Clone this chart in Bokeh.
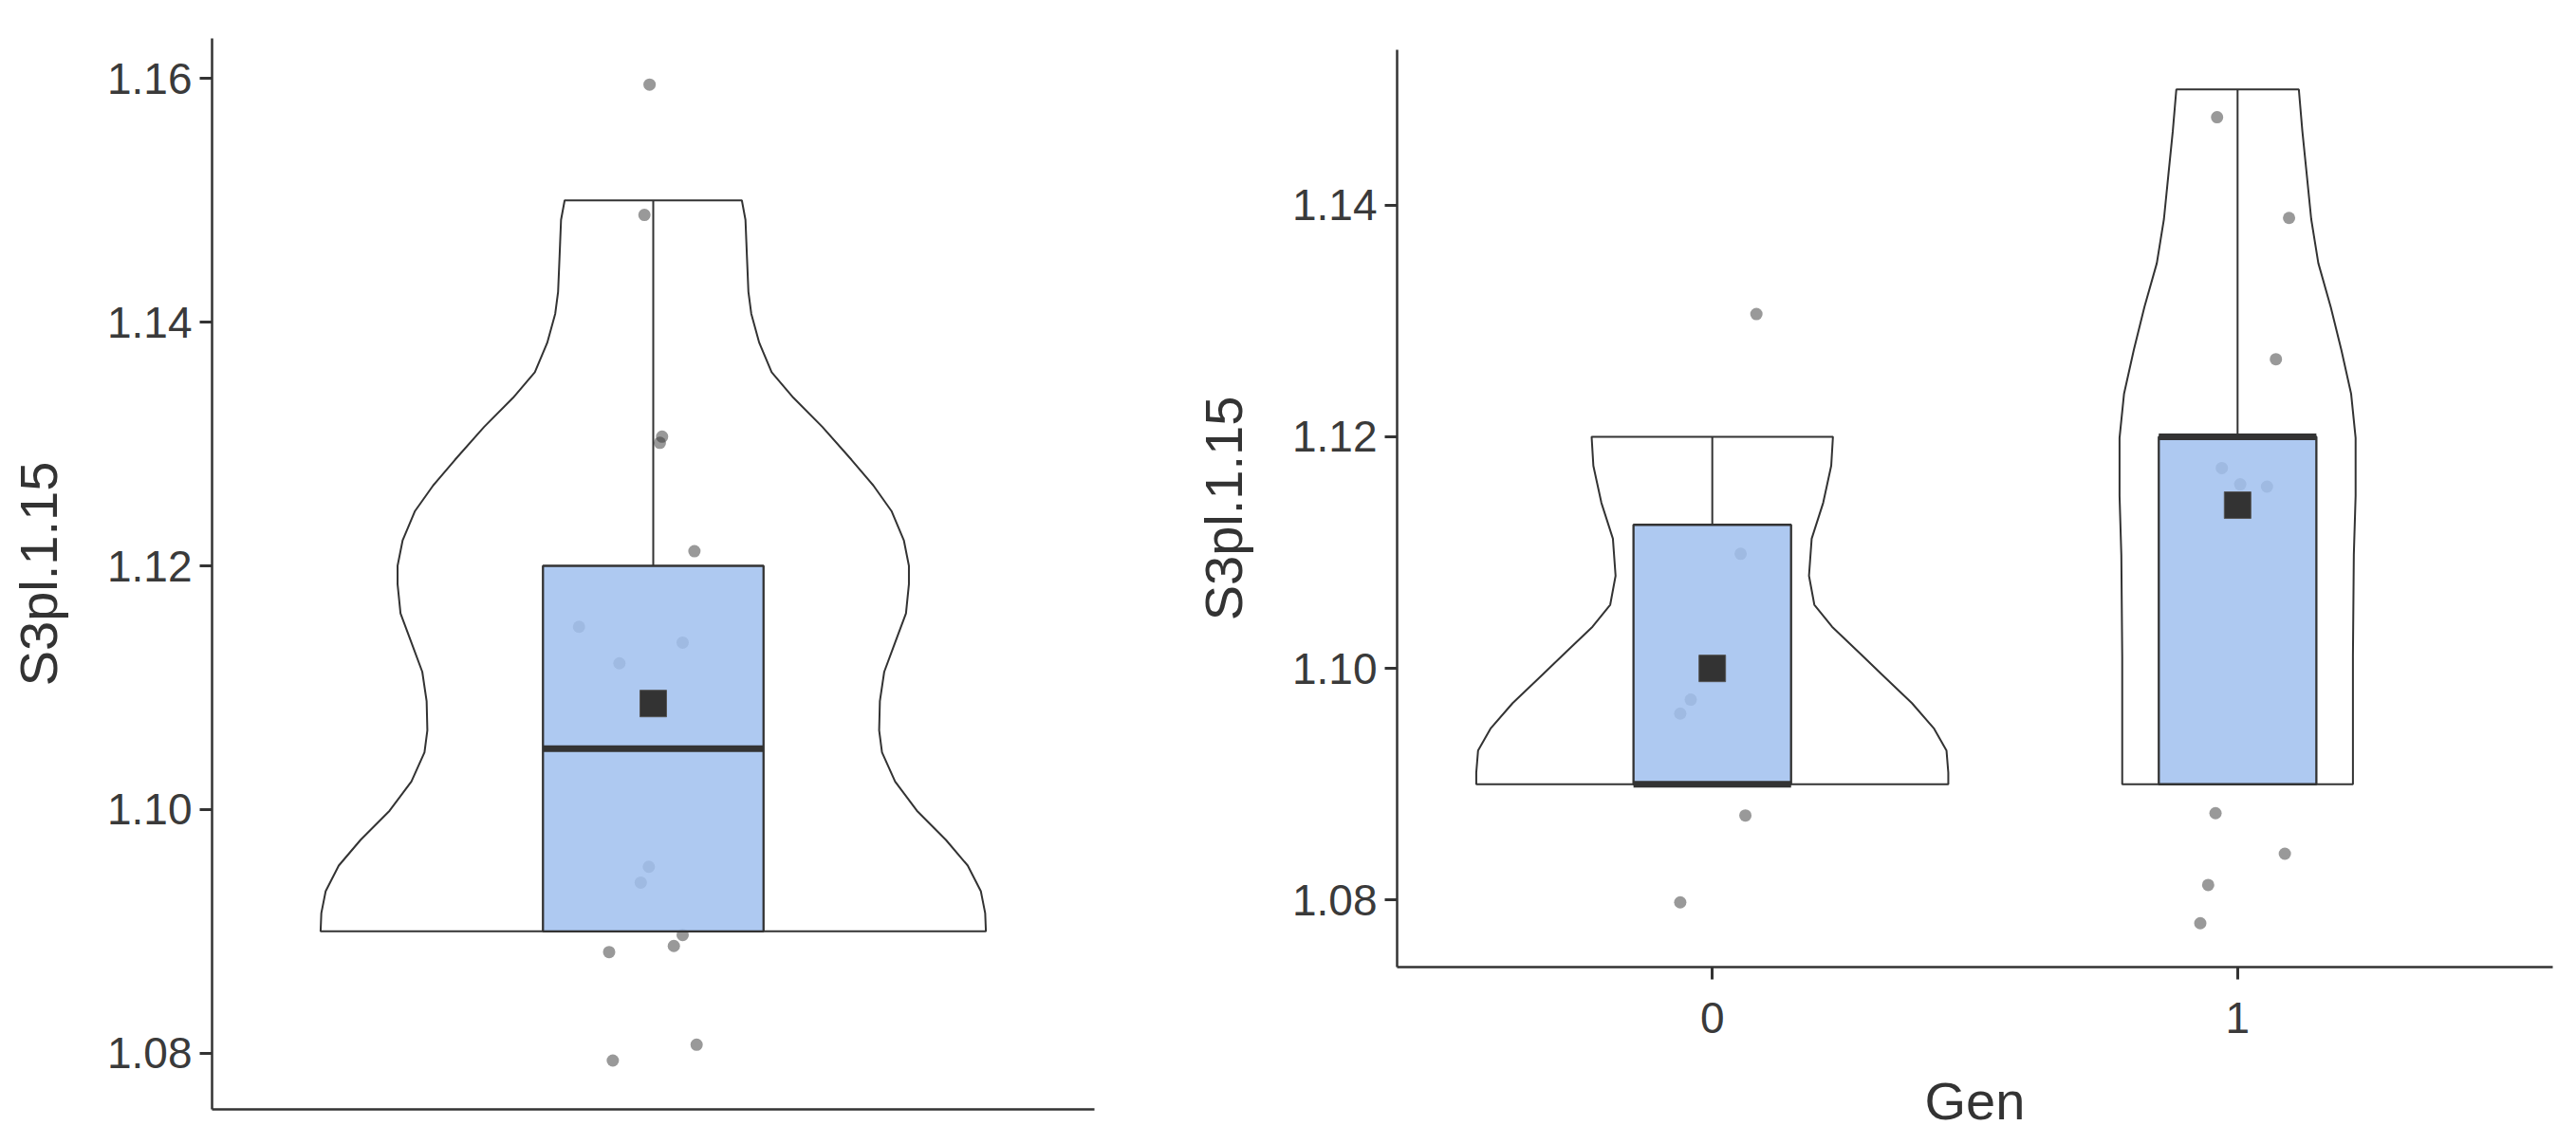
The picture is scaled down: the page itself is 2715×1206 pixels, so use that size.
from bokeh.plotting import figure
from bokeh.layouts import row, column
from bokeh.models import FixedTicker, Range1d, PrintfTickFormatter, Spacer
from bokeh.embed import file_html
from bokeh.resources import INLINE

# ---------------- data ----------------
y_title = "S3pl.1.15"
x_title = "Gen"
gen_labels = ["0", "1"]
gen_pos = [1, 2]

# left panel: all observations
all_pts_y = [1.1595, 1.1488, 1.1306, 1.1301, 1.1212, 1.1150, 1.1137, 1.1120,
             1.0953, 1.0940, 1.0897, 1.0888, 1.0883, 1.0807, 1.0794]
all_pts_jit = [-0.005, -0.012, 0.012, 0.009, 0.056, -0.101, 0.040, -0.046,
               -0.006, -0.017, 0.040, 0.028, -0.060, 0.059, -0.055]
all_q1, all_med, all_q3, all_hi, all_lo, all_mean = 1.09, 1.105, 1.12, 1.15, 1.09, 1.1087
all_vio_y = [1.0900, 1.0915, 1.0933, 1.0954, 1.0975, 1.0999, 1.1023, 1.1047, 1.1065,
             1.1089, 1.1113, 1.1137, 1.1161, 1.1185, 1.1200, 1.1221, 1.1245, 1.1266,
             1.1287, 1.1314, 1.1338, 1.1359, 1.1383, 1.1407, 1.1425, 1.1454, 1.1484, 1.1500]
all_vio_w = [0.4524, 0.4514, 0.4455, 0.4277, 0.3981, 0.3586, 0.3289, 0.3111, 0.3072,
             0.3082, 0.3141, 0.3289, 0.3437, 0.3477, 0.3477, 0.3408, 0.3240, 0.2993,
             0.2697, 0.2301, 0.1906, 0.1610, 0.1442, 0.1333, 0.1294, 0.1274, 0.1254, 0.1205]

# right panel: by Gen
gen0_pts_y = [1.1306, 1.1099, 1.0973, 1.0961, 1.0873, 1.0798]
gen0_pts_jit = [0.084, 0.054, -0.041, -0.061, 0.063, -0.061]
gen1_pts_y = [1.1476, 1.1389, 1.1267, 1.1173, 1.1159, 1.1157, 1.0875, 1.0840, 1.0813, 1.0780]
gen1_pts_jit = [-0.039, 0.098, 0.073, -0.030, 0.005, 0.056, -0.042, 0.090, -0.056, -0.071]

gen_q1 = [1.09, 1.09]
gen_med = [1.09, 1.12]
gen_q3 = [1.1124, 1.12]
gen_hi = [1.12, 1.15]
gen_lo = [1.09, 1.09]
gen_mean = [1.1000, 1.1141]

gen0_vio_y = [1.0900, 1.0910, 1.0929, 1.0948, 1.0970, 1.0992, 1.1014, 1.1036, 1.1055,
              1.1080, 1.1112, 1.1143, 1.1175, 1.1200]
gen0_vio_w = [0.4493, 0.4493, 0.4459, 0.4223, 0.3801, 0.3294, 0.2787, 0.2280, 0.1943,
              0.1841, 0.1892, 0.2111, 0.2264, 0.2297]
gen1_vio_y = [1.0900, 1.0947, 1.1010, 1.1098, 1.1149, 1.1199, 1.1237, 1.1275, 1.1312,
              1.1350, 1.1388, 1.1426, 1.1464, 1.1500]
gen1_vio_w = [0.2196, 0.2196, 0.2196, 0.2213, 0.2247, 0.2247, 0.2162, 0.1976, 0.1774,
              0.1537, 0.1402, 0.1318, 0.1233, 0.1166]

left_yticks = [1.08, 1.10, 1.12, 1.14, 1.16]
right_yticks = [1.08, 1.10, 1.12, 1.14]

# ---------------- style ----------------
FONT = "Liberation Sans"
DARK = "#333333"
BOX_FILL = "#a0bfee"
BOX_W = 0.3


def style(p):
    p.xgrid.visible = False
    p.ygrid.visible = False
    p.outline_line_color = None
    p.background_fill_color = "white"
    p.border_fill_color = "white"
    for ax in p.axis:
        ax.axis_line_color = DARK
        ax.axis_line_width = 2.5
        ax.major_tick_line_color = DARK
        ax.major_tick_line_width = 3
        ax.major_tick_out = 13
        ax.major_tick_in = 0
        ax.minor_tick_line_color = None
        ax.major_label_text_font = FONT
        ax.major_label_text_font_size = "46px"
        ax.major_label_text_color = "#3a3a3a"
        ax.axis_label_text_font = FONT
        ax.axis_label_text_font_size = "56px"
        ax.axis_label_text_font_style = "normal"
        ax.axis_label_text_color = DARK
    p.yaxis.major_label_standoff = 8
    p.xaxis.major_label_standoff = 24


def draw_group(p, pos, vio_y, vio_w, pts_y, pts_jit, q1, med, q3, lo, hi, mean):
    xs = [pos + w for w in vio_w] + [pos - w for w in reversed(vio_w)]
    ys = list(vio_y) + list(reversed(vio_y))
    p.patch(xs, ys, fill_color="white", fill_alpha=0.0, line_color=DARK, line_width=2)
    p.segment(x0=[pos, pos], y0=[q3, lo], x1=[pos, pos], y1=[hi, q1],
              line_color=DARK, line_width=2)
    p.scatter([pos + j for j in pts_jit], pts_y, marker="circle", size=13,
              fill_color=DARK, fill_alpha=0.5, line_alpha=0)
    p.quad(left=[pos - BOX_W / 2], right=[pos + BOX_W / 2], bottom=[q1], top=[q3],
           fill_color=BOX_FILL, fill_alpha=0.85, line_color=DARK, line_width=2.3)
    p.segment(x0=[pos - BOX_W / 2], y0=[med], x1=[pos + BOX_W / 2], y1=[med],
              line_color=DARK, line_width=7)
    p.scatter([pos], [mean], marker="square", size=28, fill_color=DARK,
              line_color="#555555", line_width=1)


# ---------------- left figure ----------------
p1 = figure(frame_width=930, frame_height=1129, min_border_left=223, min_border_right=97,
            min_border_top=40, min_border_bottom=31, toolbar_location=None,
            output_backend="svg", x_range=Range1d(0.4, 1.6),
            y_range=Range1d(1.07539, 1.16329))
draw_group(p1, 1, all_vio_y, all_vio_w, all_pts_y, all_pts_jit,
           all_q1, all_med, all_q3, all_lo, all_hi, all_mean)
style(p1)
p1.yaxis.ticker = FixedTicker(ticks=left_yticks)
p1.yaxis.formatter = PrintfTickFormatter(format="%.2f")
p1.yaxis.axis_label = y_title
p1.yaxis.axis_label_standoff = 38
p1.xaxis.ticker = FixedTicker(ticks=[])
p1.xaxis.major_label_text_font_size = "0px"

# ---------------- right figure ----------------
p2 = figure(frame_width=1218, frame_height=967, min_border_left=222, min_border_right=10,
            min_border_top=40, min_border_bottom=169, toolbar_location=None,
            output_backend="svg", x_range=Range1d(0.4, 2.6),
            y_range=Range1d(1.07421, 1.15342))
draw_group(p2, gen_pos[0], gen0_vio_y, gen0_vio_w, gen0_pts_y, gen0_pts_jit,
           gen_q1[0], gen_med[0], gen_q3[0], gen_lo[0], gen_hi[0], gen_mean[0])
draw_group(p2, gen_pos[1], gen1_vio_y, gen1_vio_w, gen1_pts_y, gen1_pts_jit,
           gen_q1[1], gen_med[1], gen_q3[1], gen_lo[1], gen_hi[1], gen_mean[1])
style(p2)
p2.yaxis.ticker = FixedTicker(ticks=right_yticks)
p2.yaxis.formatter = PrintfTickFormatter(format="%.2f")
p2.yaxis.axis_label = y_title
p2.yaxis.axis_label_standoff = 38
p2.xaxis.ticker = FixedTicker(ticks=gen_pos)
p2.xaxis.major_label_overrides = {gen_pos[i]: gen_labels[i] for i in range(len(gen_pos))}
p2.xaxis.axis_label = x_title
p2.xaxis.axis_label_standoff = 37

layout = row(p1, column(Spacer(width=10, height=12), p2))
open("out.html", "w").write(file_html(layout, INLINE))
